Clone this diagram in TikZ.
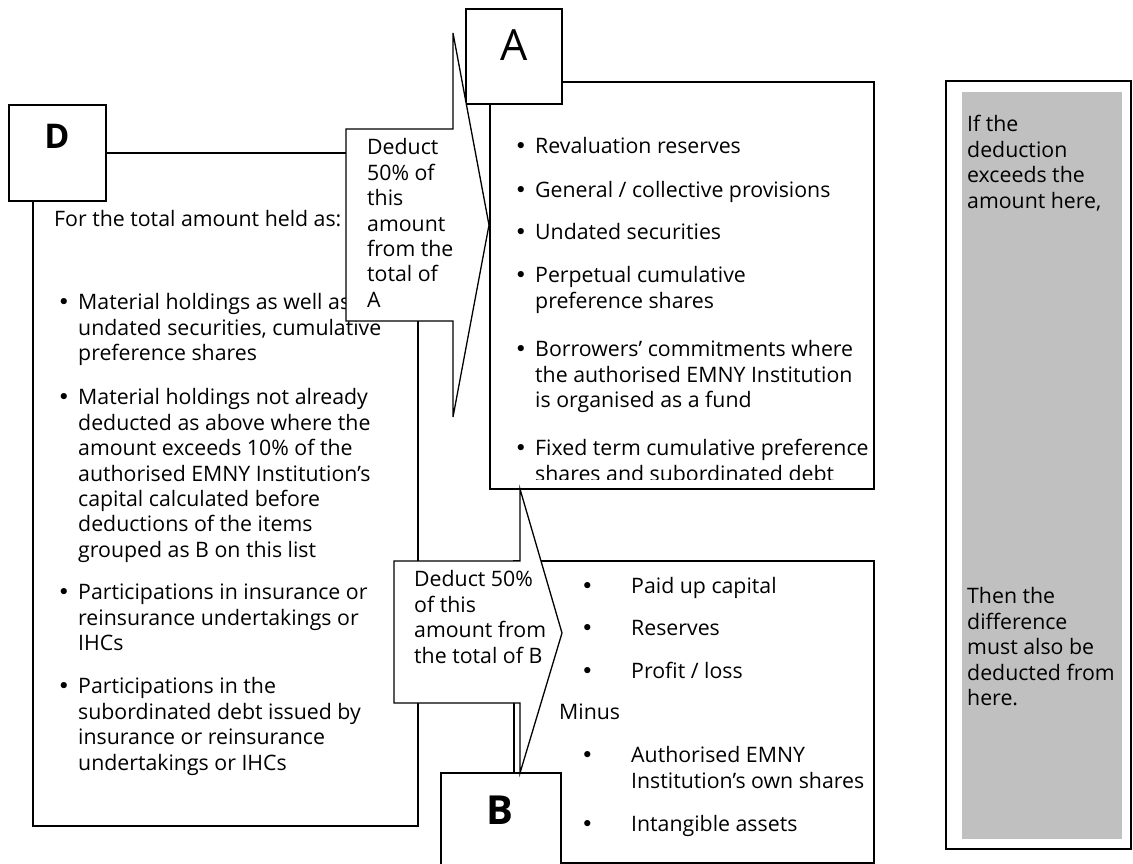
\documentclass[tikz,border=0pt]{standalone}
\usepackage{fontspec}
\setmainfont{Open Sans}
\newfontfamily\bulfont{DejaVu Sans}
\begin{document}
\begin{tikzpicture}[x=1pt,y=-1pt,
  box/.style={draw=black,line width=1.5pt,fill=white},
  callout/.style={draw=black,line width=1.3pt,fill=white,line join=miter},
  txt/.style={anchor=north west,inner sep=0pt,align=left,font=\fontsize{21.3}{25.4}\selectfont},
  letter/.style={inner sep=0pt,font=\fontsize{40}{40}\selectfont\bfseries},
  bul/.style={txt}
]
\useasboundingbox (0,0) rectangle (1133,864);
\newcommand\bu{\llap{\makebox[20.5pt][l]{\bulfont\textbullet}}}

% ---- D ----
\draw[box] (33,153) rectangle (418,826);
\node[txt] (dhead) at (54,209) {\strut For the total amount held as:};
\node[txt] (d1) at (78,292) {\strut\bu Material holdings as well as\\undated securities, cumulative\\preference shares};
\node[txt] (d2) at (78,387) {\strut\bu Material holdings not already\\deducted as above where the\\amount exceeds 10\% of the\\authorised EMNY Institution’s\\capital calculated before\\deductions of the items\\grouped as B on this list};
\node[txt] (d3) at (78,582) {\strut\bu Participations in insurance or\\reinsurance undertakings or\\IHCs};
\node[txt] (d4) at (78,676) {\strut\bu Participations in the\\subordinated debt issued by\\insurance or reinsurance\\undertakings or IHCs};
\draw[box] (9,105) rectangle (106,201);
\node[letter,font=\fontsize{34}{34}\selectfont\bfseries] (D) at (57,136) {D};

% ---- A ----
\draw[box] (490,82) rectangle (874,489);
\begin{scope}
\clip (491,83) rectangle (873,479);
\node[txt] (a1) at (535,136) {\strut\bu Revaluation reserves};
\node[txt] (a2) at (535,180) {\strut\bu General / collective provisions};
\node[txt] (a3) at (535,222) {\strut\bu Undated securities};
\node[txt] (a4) at (535,265) {\strut\bu Perpetual cumulative\\preference shares};
\node[txt] (a5) at (535,339) {\strut\bu Borrowers’ commitments where\\the authorised EMNY Institution\\is organised as a fund};
\node[txt] (a6) at (535,438) {\strut\bu Fixed term cumulative preference\\shares and subordinated debt};
\end{scope}
\draw[box] (466,9) rectangle (562,104);
\node[letter,font=\fontsize{43}{43}\selectfont] (A) at (514,45) {A};

% ---- B ----
\draw[box] (514,561) rectangle (874,863);
\node[bul] (bb1) at (581,576) {\strut\bulfont\textbullet};
\node[txt] (b1) at (631,576) {\strut Paid up capital};
\node[bul] (bb2) at (581,618) {\strut\bulfont\textbullet};
\node[txt] (b2) at (631,618) {\strut Reserves};
\node[bul] (bb3) at (581,661) {\strut\bulfont\textbullet};
\node[txt] (b3) at (631,661) {\strut Profit / loss};
\node[txt] (minus) at (559,702) {\strut Minus};
\node[bul] (bb4) at (581,745) {\strut\bulfont\textbullet};
\node[txt] (b4) at (631,745) {\strut Authorised EMNY\\Institution’s own shares};
\node[bul] (bb5) at (581,814) {\strut\bulfont\textbullet};
\node[txt] (b5) at (631,814) {\strut Intangible assets};
\draw[box] (441,773) rectangle (561,880);
\node[letter] (B) at (500,810) {B};

% ---- callout to A ----
\draw[callout] (346,129) -- (453,129) -- (453,33) -- (489,225) -- (453,417) -- (453,321) -- (346,321) -- cycle;
\node[txt] (ca) at (367,137) {\strut Deduct\\50\% of\\this\\amount\\from the\\total of\\A};

% ---- callout to B ----
\draw[callout] (394,561) -- (520,561) -- (520,489) -- (562,633) -- (520,773) -- (520,703) -- (394,703) -- cycle;
\node[txt] (cb) at (414,569) {\strut Deduct 50\%\\of this\\amount from\\the total of B};

% ---- right panel ----
\draw[box] (946,81) rectangle (1131,849);
\fill[fill={rgb,255:red,192;green,192;blue,192}] (962,92) rectangle (1122,839);
\node[txt] (r1) at (967,114) {\strut If the\\deduction\\exceeds the\\amount here,};
\node[txt] (r2) at (967,586) {\strut Then the\\difference\\must also be\\deducted from\\here.};
\end{tikzpicture}
\end{document}
